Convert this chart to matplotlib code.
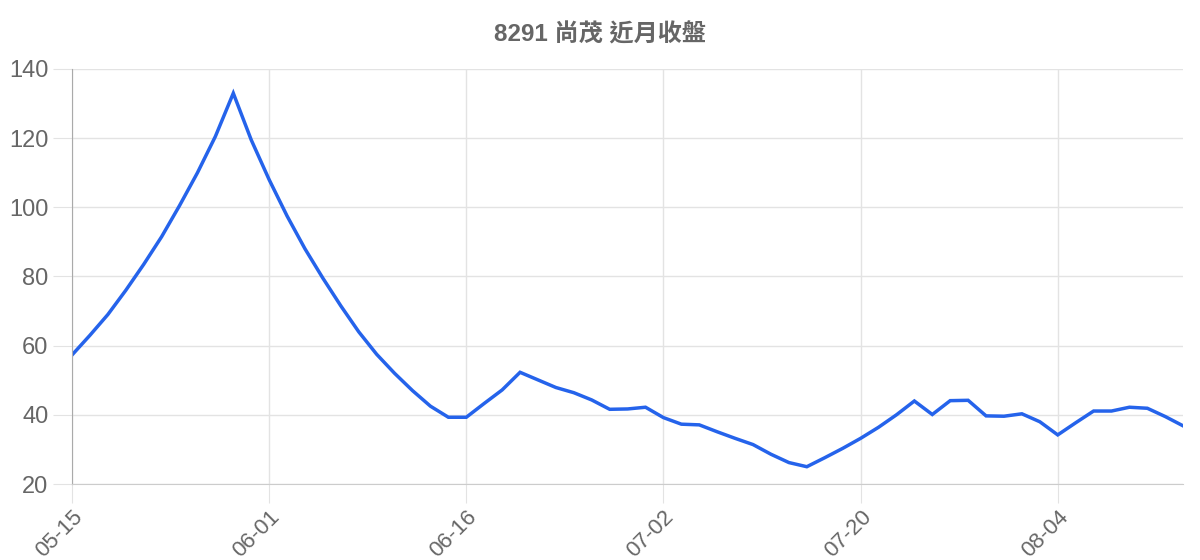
import matplotlib
matplotlib.use('Agg')
import matplotlib.pyplot as plt

plt.rcParams['font.family'] = ['Liberation Sans', 'Noto Sans CJK TC', 'DejaVu Sans']

# closing prices, one per trading day
prices = [57.3, 63.0, 69.0, 76.0, 83.5, 91.5, 100.5, 110.0, 120.5, 133.0,
          119.5, 108.0, 97.5, 88.0, 79.5, 71.5, 64.0, 57.5, 52.0, 47.0,
          42.5, 39.3, 39.3, 43.3, 47.2, 52.3, 50.1, 47.9, 46.4, 44.3,
          41.6, 41.7, 42.2, 39.2, 37.3, 37.1, 35.1, 33.2, 31.4, 28.6,
          26.2, 25.0, 27.6, 30.3, 33.2, 36.4, 40.0, 44.0, 40.1, 44.1,
          44.2, 39.7, 39.6, 40.3, 38.0, 34.2, 37.7, 41.1, 41.1, 42.2,
          41.9, 39.5, 36.8]
tick_idx = [0, 11, 22, 33, 44, 55]
tick_labels = ['05-15', '06-01', '06-16', '07-02', '07-20', '08-04']
yticks = [20, 40, 60, 80, 100, 120, 140]

fig = plt.figure(figsize=(12, 5.6), dpi=100)
ax = fig.add_axes([0.06, 0.1357, 0.926, 0.7411])

ax.plot(range(len(prices)), prices, color='#2563eb', lw=2.5, solid_joinstyle='miter')
ax.set_xlim(0, len(prices) - 1)
ax.set_ylim(20, 140)

ax.set_yticks(yticks)
ax.set_xticks(tick_idx)
ax.set_xticklabels(tick_labels, rotation=45, ha='right', va='top', rotation_mode='anchor')
ax.grid(True, color='#e3e3e3', lw=1)
ax.set_axisbelow(True)
ax.tick_params(axis='both', length=14, color='#e3e3e3', labelcolor='#666666', pad=3)
ax.tick_params(axis='y', labelsize=17)
ax.tick_params(axis='x', labelsize=16, pad=2)

for s in ['top', 'right']:
    ax.spines[s].set_visible(False)
ax.spines['left'].set_color('#aaaaaa')
ax.spines['bottom'].set_color('#cccccc')

fig.suptitle('8291 尚茂 近月收盤', x=0.5, y=0.958, fontsize=17.4, fontweight='bold', color='#666666')

fig.savefig('out.png', dpi=100)
